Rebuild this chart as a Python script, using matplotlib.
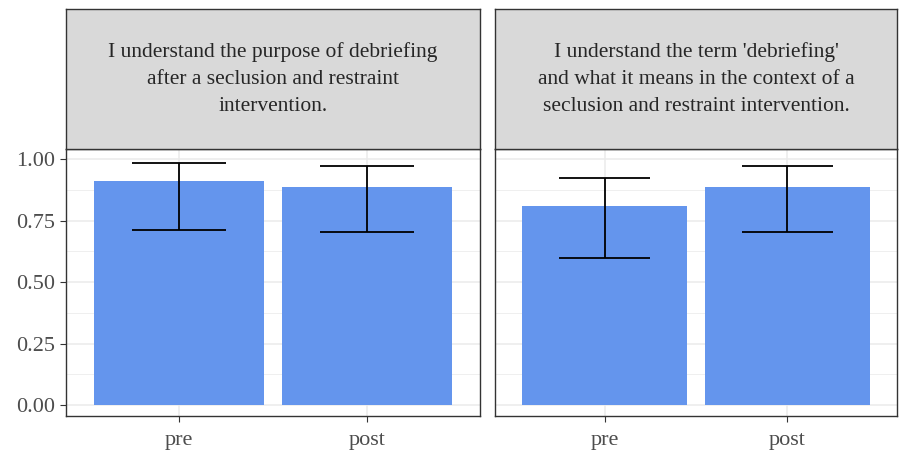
import matplotlib
matplotlib.use("Agg")
import matplotlib.pyplot as plt
import numpy as np

plt.rcParams['font.family'] = ['Liberation Serif', 'DejaVu Serif']

categories = ["pre", "post"]
facet_titles = [
    "I understand the purpose of debriefing\nafter a seclusion and restraint\nintervention.",
    "I understand the term 'debriefing'\nand what it means in the context of a\nseclusion and restraint intervention.",
]
means = [[0.911, 0.886], [0.809, 0.886]]
lower = [[0.713, 0.705], [0.599, 0.705]]
upper = [[0.984, 0.971], [0.925, 0.971]]
yticks = [0.0, 0.25, 0.5, 0.75, 1.0]
ytick_labels = ["0.00", "0.25", "0.50", "0.75", "1.00"]

W, H = 899, 453
fig = plt.figure(figsize=(W / 100, H / 100), dpi=100)

def px_axes(left, top, right, bottom):
    return fig.add_axes([left / W, 1 - bottom / H, (right - left) / W, (bottom - top) / H])

panels = [(66, 480), (495, 897)]
strip_top, strip_bot, panel_bot = 9, 149, 416
bar_color = "#6495ED"

for i, (l, r) in enumerate(panels):
    ax = px_axes(l, strip_bot, r, panel_bot)
    x = np.arange(1, len(categories) + 1)
    ax.bar(x, means[i], width=0.9, color=bar_color, zorder=2)
    m = np.array(means[i])
    yerr = [m - np.array(lower[i]), np.array(upper[i]) - m]
    ax.errorbar(x, m, yerr=yerr, fmt='none', ecolor='black', elinewidth=1.3,
                capsize=0, zorder=3)
    for xi, lo, hi in zip(x, lower[i], upper[i]):
        ax.hlines([lo, hi], xi - 0.25, xi + 0.25, colors='black', linewidth=1.3, zorder=3)
    ax.set_xlim(0.4, 2.6)
    ax.set_ylim(-0.045, 1.042)
    ax.set_xticks(x)
    ax.set_xticklabels(categories)
    ax.set_yticks(yticks)
    ax.set_yticks([0.125, 0.375, 0.625, 0.875], minor=True)
    ax.grid(True, which='major', color='#EBEBEB', linewidth=1.1, zorder=0)
    ax.grid(True, which='minor', axis='y', color='#EBEBEB', linewidth=0.55, zorder=0)
    ax.set_axisbelow(True)
    ax.tick_params(axis='both', which='major', length=4, width=0.8, color='#333333',
                   labelsize=16, labelcolor='#4D4D4D')
    ax.tick_params(axis='x', which='major', pad=6.5)
    ax.tick_params(axis='y', which='major', pad=4)
    ax.tick_params(axis='y', which='minor', length=0)
    if i == 0:
        ax.set_yticklabels(ytick_labels)
    else:
        ax.tick_params(axis='y', which='both', left=False, labelleft=False)
    for s in ax.spines.values():
        s.set_color('#333333')
        s.set_linewidth(1.0)

    sax = px_axes(l, strip_top, r, strip_bot)
    sax.set_facecolor('#D9D9D9')
    sax.set_xticks([])
    sax.set_yticks([])
    for s in sax.spines.values():
        s.set_color('#333333')
        s.set_linewidth(1.0)
    sax.text(0.5, 0.5, facet_titles[i], ha='center', va='center', fontsize=15.5,
             color='#262626', linespacing=1.55, transform=sax.transAxes)

fig.savefig("out.png", dpi=100)
